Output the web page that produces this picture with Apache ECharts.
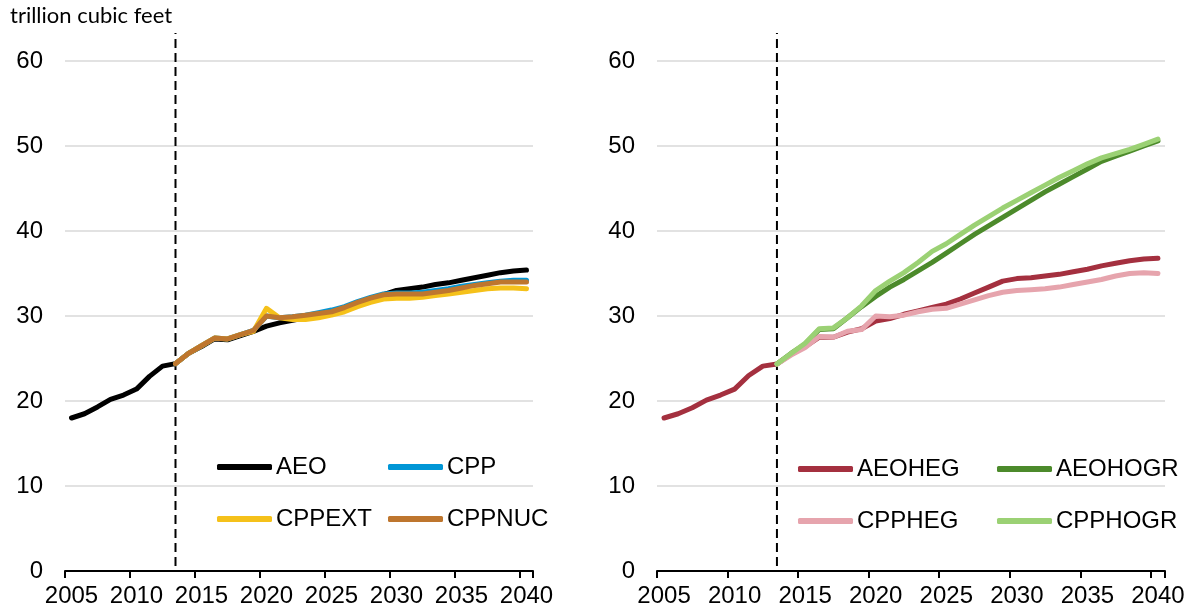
<!DOCTYPE html>
<html>
<head>
<meta charset="utf-8">
<script src="https://cdn.jsdelivr.net/npm/echarts@6/dist/echarts.min.js"></script>
<style>
  html, body { margin: 0; padding: 0; background: #ffffff; }
  #chart { width: 1191px; height: 613px; }
</style>
</head>
<body>
<div id="chart"></div>
<script>
// Natural gas consumption, trillion cubic feet
const years = ['2005','2006','2007','2008','2009','2010','2011','2012','2013','2014',
  '2015','2016','2017','2018','2019','2020','2021','2022','2023','2024','2025','2026',
  '2027','2028','2029','2030','2031','2032','2033','2034','2035','2036','2037','2038',
  '2039','2040'];
const yTickMin = 0, yTickMax = 60, yTickStep = 10;
const unitLabel = 'trillion cubic feet';

// History/projection divide (dashed reference line)
const divideYear = '2013';
const divideSpan = [0.6, 63.3];

const pre = [null, null, null, null, null, null, null, null]; // 2005-2012

// Left panel
const AEO = [18.0, 18.5, 19.3, 20.2, 20.7, 21.4, 22.9, 24.1, 24.4, 25.6, 26.4, 27.3, 27.2,
  27.7, 28.2, 28.8, 29.2, 29.5, 29.8, 30.1, 30.4, 30.9, 31.5, 32.0, 32.5, 33.0, 33.2, 33.4,
  33.7, 33.9, 34.2, 34.5, 34.8, 35.1, 35.3, 35.4];
const CPP = pre.concat([24.4, 25.6, 26.5, 27.4, 27.3, 27.8, 28.3, 30.0, 29.8, 29.9, 30.1,
  30.4, 30.7, 31.1, 31.7, 32.2, 32.6, 32.7, 32.7, 32.8, 33.0, 33.2, 33.5, 33.7, 33.9, 34.1,
  34.2, 34.2]);
const CPPEXT = pre.concat([24.4, 25.6, 26.5, 27.4, 27.3, 27.8, 28.2, 30.9, 29.8, 29.6, 29.6,
  29.8, 30.1, 30.5, 31.1, 31.6, 32.0, 32.1, 32.1, 32.2, 32.4, 32.6, 32.8, 33.0, 33.2, 33.3,
  33.3, 33.2]);
const CPPNUC = pre.concat([24.4, 25.6, 26.5, 27.4, 27.3, 27.8, 28.3, 30.0, 29.8, 29.9, 30.1,
  30.3, 30.5, 31.0, 31.6, 32.1, 32.5, 32.6, 32.6, 32.6, 32.8, 33.0, 33.3, 33.6, 33.8, 34.0,
  34.0, 34.0]);

// Right panel
const AEOHEG = [18.0, 18.5, 19.2, 20.1, 20.7, 21.4, 23.0, 24.1, 24.35, 25.5, 26.4, 27.5, 27.5,
  28.1, 28.5, 29.4, 29.7, 30.2, 30.6, 31.0, 31.4, 32.0, 32.7, 33.4, 34.1, 34.4, 34.5, 34.7,
  34.9, 35.2, 35.5, 35.9, 36.2, 36.5, 36.7, 36.8];
const AEOHOGR = pre.concat([24.35, 25.6, 26.7, 28.4, 28.5, 29.8, 31.1, 32.3, 33.4, 34.3, 35.3,
  36.3, 37.4, 38.5, 39.6, 40.6, 41.6, 42.6, 43.6, 44.6, 45.5, 46.4, 47.3, 48.2, 48.8, 49.4,
  50.0, 50.6]);
const CPPHEG = pre.concat([24.35, 25.4, 26.3, 27.6, 27.5, 28.2, 28.4, 30.0, 29.9, 30.1, 30.5,
  30.8, 30.9, 31.4, 31.9, 32.4, 32.8, 33.0, 33.1, 33.2, 33.4, 33.7, 34.0, 34.3, 34.7, 35.0,
  35.1, 35.0]);
const CPPHOGR = pre.concat([24.35, 25.6, 26.8, 28.5, 28.6, 29.8, 31.2, 33.0, 34.1, 35.1, 36.3,
  37.6, 38.5, 39.6, 40.7, 41.7, 42.7, 43.6, 44.5, 45.4, 46.3, 47.1, 47.9, 48.6, 49.1, 49.6,
  50.2, 50.8]);

const leftSeries = [
  { name: 'AEO', data: AEO, color: '#000000' },
  { name: 'CPP', data: CPP, color: '#0096D6' },
  { name: 'CPPEXT', data: CPPEXT, color: '#F5C11A' },
  { name: 'CPPNUC', data: CPPNUC, color: '#BE762E' }
];
const rightSeries = [
  { name: 'AEOHEG', data: AEOHEG, color: '#A4303F' },
  { name: 'AEOHOGR', data: AEOHOGR, color: '#4C8A2B' },
  { name: 'CPPHEG', data: CPPHEG, color: '#E6A4AD' },
  { name: 'CPPHOGR', data: CPPHOGR, color: '#9BD174' }
];

const FONT = 'Liberation Sans, Arial, sans-serif';
const FS = 24;
const chart = echarts.init(document.getElementById('chart'), null, { renderer: 'canvas' });

function xAxisFor(gridIndex) {
  return {
    type: 'category', gridIndex, data: years, boundaryGap: true,
    axisLine: { show: true, lineStyle: { color: '#000000', width: 2 } },
    axisTick: { show: true, interval: 4, length: 7, lineStyle: { color: '#000000', width: 2 } },
    axisLabel: { interval: 4, margin: 13, color: '#000000', fontFamily: FONT, fontSize: FS },
    splitLine: { show: false }
  };
}
function yAxisFor(gridIndex) {
  return {
    type: 'value', gridIndex, min: yTickMin, max: yTickMax, interval: yTickStep,
    axisLine: { show: false }, axisTick: { show: false },
    axisLabel: { margin: 22, color: '#000000', fontFamily: FONT, fontSize: FS },
    splitLine: { show: true, lineStyle: { color: '#D9D9D9', width: 1.5 } }
  };
}

function divider(idx) {
  return {
    type: 'line', xAxisIndex: idx, yAxisIndex: idx, silent: true, clip: false,
    data: [[divideYear, divideSpan[0]], [divideYear, divideSpan[1]]],
    symbol: 'none', z: 1,
    lineStyle: { color: '#000000', width: 2, type: [9, 5] }
  };
}

function lineSeries(list, idx) {
  return list.map((s, i) => ({
    type: 'line', name: s.name, xAxisIndex: idx, yAxisIndex: idx,
    data: s.data, symbol: 'none', connectNulls: false, z: 3 + i,
    color: s.color,
    lineStyle: { color: s.color, width: 5, cap: 'round', join: 'round' },
    emphasis: { disabled: true }
  }));
}

// one legend block per entry, laid out as a 2x2 grid in each panel
const legendPos = [
  { name: 'AEO', left: 217, top: 455 },
  { name: 'CPP', left: 388, top: 455 },
  { name: 'CPPEXT', left: 217, top: 507 },
  { name: 'CPPNUC', left: 388, top: 507 },
  { name: 'AEOHEG', left: 798, top: 457 },
  { name: 'AEOHOGR', left: 997, top: 457 },
  { name: 'CPPHEG', left: 798, top: 509 },
  { name: 'CPPHOGR', left: 997, top: 509 }
];
const legends = legendPos.map(p => ({
  data: [p.name], left: p.left, top: p.top, padding: 0,
  icon: 'roundRect', itemWidth: 55, itemHeight: 6, itemGap: 0,
  selectedMode: false,
  textStyle: { color: '#000000', fontFamily: FONT, fontSize: FS, padding: [0, 0, 0, -1] }
}));

chart.setOption({
  animation: false,
  backgroundColor: '#ffffff',
  title: {
    text: unitLabel, left: 10, top: 5, padding: 0,
    textStyle: { fontFamily: 'Lato, Open Sans, sans-serif', fontWeight: 'normal', fontSize: 22, color: '#000000' }
  },
  legend: legends,
  grid: [
    { left: 65, top: 61, width: 468, height: 510 },
    { left: 657, top: 61, width: 508, height: 510 }
  ],
  xAxis: [xAxisFor(0), xAxisFor(1)],
  yAxis: [yAxisFor(0), yAxisFor(1)],
  series: [divider(0), divider(1)]
    .concat(lineSeries(leftSeries, 0))
    .concat(lineSeries(rightSeries, 1))
});
</script>
</body>
</html>
